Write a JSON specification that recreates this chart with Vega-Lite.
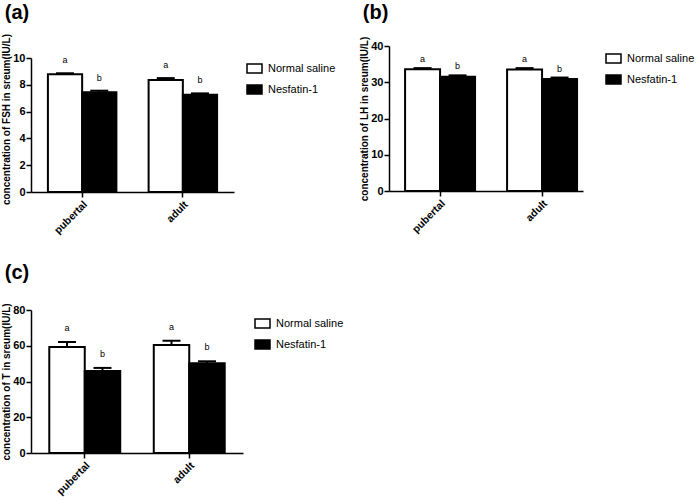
{
  "$schema": "https://vega.github.io/schema/vega-lite/v6.json",
  "background": "white",
  "padding": {"left": 1, "top": 3, "right": 0, "bottom": 0},
  "datasets": {
    "d": [
      {"hormone": "FSH", "stage": "pubertal", "group": "Normal saline", "mean": 8.78, "upper": 8.86, "sig": "a"},
      {"hormone": "FSH", "stage": "pubertal", "group": "Nesfatin-1", "mean": 7.44, "upper": 7.56, "sig": "b"},
      {"hormone": "FSH", "stage": "adult", "group": "Normal saline", "mean": 8.36, "upper": 8.5, "sig": "a"},
      {"hormone": "FSH", "stage": "adult", "group": "Nesfatin-1", "mean": 7.26, "upper": 7.36, "sig": "b"},
      {"hormone": "LH", "stage": "pubertal", "group": "Normal saline", "mean": 33.6, "upper": 33.9, "sig": "a"},
      {"hormone": "LH", "stage": "pubertal", "group": "Nesfatin-1", "mean": 31.5, "upper": 31.9, "sig": "b"},
      {"hormone": "LH", "stage": "adult", "group": "Normal saline", "mean": 33.5, "upper": 33.9, "sig": "a"},
      {"hormone": "LH", "stage": "adult", "group": "Nesfatin-1", "mean": 30.9, "upper": 31.3, "sig": "b"},
      {"hormone": "T", "stage": "pubertal", "group": "Normal saline", "mean": 59.3, "upper": 62.1, "sig": "a"},
      {"hormone": "T", "stage": "pubertal", "group": "Nesfatin-1", "mean": 45.9, "upper": 47.6, "sig": "b"},
      {"hormone": "T", "stage": "adult", "group": "Normal saline", "mean": 60.4, "upper": 62.8, "sig": "a"},
      {"hormone": "T", "stage": "adult", "group": "Nesfatin-1", "mean": 50.2, "upper": 51.3, "sig": "b"}
    ]
  },
  "config": {
    "font": "Liberation Sans",
    "view": {"stroke": null},
    "axis": {
      "domainColor": "black", "domainWidth": 1.5,
      "tickColor": "black", "tickWidth": 1.5, "tickSize": 5,
      "labelColor": "black", "labelFont": "Liberation Sans", "labelFontWeight": "bold", "labelFontSize": 11,
      "titleColor": "black", "titleFont": "Liberation Sans", "titleFontWeight": "bold", "titleFontSize": 10,
      "grid": false
    },
    "axisX": {"labelAngle": -45, "labelFontSize": 10.5, "labelPadding": 2, "title": null},
    "axisY": {"labelPadding": 1, "titlePadding": 1, "labelOverlap": false},
    "legend": {
      "orient": "none", "title": null, "padding": 0,
      "symbolType": "M-1,-0.6H1V0.6H-1Z", "symbolSize": 225,
      "symbolStrokeColor": "black", "symbolStrokeWidth": 1.5,
      "labelFont": "Liberation Sans", "labelFontSize": 11, "labelColor": "black",
      "labelOffset": 5, "rowPadding": 5
    },
    "title": {"font": "Liberation Sans", "fontSize": 20, "fontWeight": "bold", "color": "black", "anchor": "start", "frame": "bounds", "dx": 3}
  },
  "columns": 2,
  "spacing": {"row": 118, "column": 146},
  "bounds": "flush",
  "resolve": {"scale": {"x": "independent", "y": "independent", "fill": "independent", "xOffset": "independent"}, "legend": {"fill": "independent"}},
  "concat": [
    {
      "title": {"text": "(a)", "offset": 10},
      "width": 203, "height": 146,
      "data": {"name": "d"},
      "transform": [{"filter": "datum.hormone === 'FSH'"}],
      "encoding": {
        "x": {"field": "stage", "type": "nominal", "sort": ["pubertal", "adult"], "scale": {"paddingInner": 0.32, "paddingOuter": 0.168}},
        "xOffset": {"field": "group", "type": "nominal", "sort": ["Normal saline", "Nesfatin-1"], "scale": {"paddingInner": 0, "paddingOuter": 0}}
      },
      "layer": [
        {
          "mark": {"type": "bar", "stroke": "black", "strokeWidth": 2},
          "encoding": {
            "y": {"field": "mean", "type": "quantitative", "scale": {"domain": [0, 10.896], "nice": false},
                  "axis": {"values": [0, 2, 4, 6, 8, 10], "labelOverlap": false, "title": "concentration of FSH in sreum(IU/L)", "domainDash": [134, 300]}},
            "fill": {"field": "group", "type": "nominal", "sort": ["Normal saline", "Nesfatin-1"],
                     "scale": {"domain": ["Normal saline", "Nesfatin-1"], "range": ["white", "black"]},
                     "legend": {"legendX": 215, "legendY": 14}}
          }
        },
        {"mark": {"type": "rule", "color": "black", "strokeWidth": 2},
         "encoding": {"y": {"field": "mean", "type": "quantitative", "axis": {"values": [0, 2, 4, 6, 8, 10], "labelOverlap": false, "title": "concentration of FSH in sreum(IU/L)", "domainDash": [134, 300]}}, "y2": {"field": "upper"}}},
        {"mark": {"type": "tick", "color": "black", "size": 18, "thickness": 2, "orient": "horizontal", "opacity": 1},
         "encoding": {"y": {"field": "upper", "type": "quantitative", "axis": {"values": [0, 2, 4, 6, 8, 10], "labelOverlap": false, "title": "concentration of FSH in sreum(IU/L)", "domainDash": [134, 300]}}}},
        {"mark": {"type": "text", "dy": -13, "fontSize": 9, "color": "black", "baseline": "middle"},
         "encoding": {"y": {"field": "upper", "type": "quantitative", "axis": {"values": [0, 2, 4, 6, 8, 10], "labelOverlap": false, "title": "concentration of FSH in sreum(IU/L)", "domainDash": [134, 300]}}, "text": {"field": "sig"}}}
      ]
    },
    {
      "title": {"text": "(b)", "offset": 13},
      "width": 194, "height": 145,
      "data": {"name": "d"},
      "transform": [{"filter": "datum.hormone === 'LH'"}],
      "encoding": {
        "x": {"field": "stage", "type": "nominal", "sort": ["pubertal", "adult"], "scale": {"paddingInner": 0.314, "paddingOuter": 0.108, "align": 0.73}},
        "xOffset": {"field": "group", "type": "nominal", "sort": ["Normal saline", "Nesfatin-1"], "scale": {"paddingInner": 0, "paddingOuter": 0}}
      },
      "layer": [
        {
          "mark": {"type": "bar", "stroke": "black", "strokeWidth": 2},
          "encoding": {
            "y": {"field": "mean", "type": "quantitative", "scale": {"domain": [0, 40], "nice": false},
                  "axis": {"values": [0, 10, 20, 30, 40], "labelOverlap": false, "title": "concentration of LH in sreum(IU/L)"}},
            "fill": {"field": "group", "type": "nominal", "sort": ["Normal saline", "Nesfatin-1"],
                     "scale": {"domain": ["Normal saline", "Nesfatin-1"], "range": ["white", "black"]},
                     "legend": {"legendX": 216, "legendY": 4}}
          }
        },
        {"mark": {"type": "rule", "color": "black", "strokeWidth": 2},
         "encoding": {"y": {"field": "mean", "type": "quantitative", "axis": {"values": [0, 10, 20, 30, 40], "labelOverlap": false, "title": "concentration of LH in sreum(IU/L)"}}, "y2": {"field": "upper"}}},
        {"mark": {"type": "tick", "color": "black", "size": 18, "thickness": 2, "orient": "horizontal", "opacity": 1},
         "encoding": {"y": {"field": "upper", "type": "quantitative", "axis": {"values": [0, 10, 20, 30, 40], "labelOverlap": false, "title": "concentration of LH in sreum(IU/L)"}}}},
        {"mark": {"type": "text", "dy": -9, "fontSize": 9, "color": "black", "baseline": "middle"},
         "encoding": {"y": {"field": "upper", "type": "quantitative", "axis": {"values": [0, 10, 20, 30, 40], "labelOverlap": false, "title": "concentration of LH in sreum(IU/L)"}}, "text": {"field": "sig"}}}
      ]
    },
    {
      "title": {"text": "(c)", "offset": 20},
      "width": 212, "height": 143,
      "data": {"name": "d"},
      "transform": [{"filter": "datum.hormone === 'T'"}],
      "encoding": {
        "x": {"field": "stage", "type": "nominal", "sort": ["pubertal", "adult"], "scale": {"paddingInner": 0.321, "paddingOuter": 0.175}},
        "xOffset": {"field": "group", "type": "nominal", "sort": ["Normal saline", "Nesfatin-1"], "scale": {"paddingInner": 0, "paddingOuter": 0}}
      },
      "layer": [
        {
          "mark": {"type": "bar", "stroke": "black", "strokeWidth": 2},
          "encoding": {
            "y": {"field": "mean", "type": "quantitative", "scale": {"domain": [0, 80], "nice": false},
                  "axis": {"values": [0, 20, 40, 60, 80], "labelOverlap": false, "title": "concentration of T in sreum(IU/L)"}},
            "fill": {"field": "group", "type": "nominal", "sort": ["Normal saline", "Nesfatin-1"],
                     "scale": {"domain": ["Normal saline", "Nesfatin-1"], "range": ["white", "black"]},
                     "legend": {"legendX": 223, "legendY": 5}}
          }
        },
        {"mark": {"type": "rule", "color": "black", "strokeWidth": 2},
         "encoding": {"y": {"field": "mean", "type": "quantitative", "axis": {"values": [0, 20, 40, 60, 80], "labelOverlap": false, "title": "concentration of T in sreum(IU/L)"}}, "y2": {"field": "upper"}}},
        {"mark": {"type": "tick", "color": "black", "size": 18, "thickness": 2, "orient": "horizontal", "opacity": 1},
         "encoding": {"y": {"field": "upper", "type": "quantitative", "axis": {"values": [0, 20, 40, 60, 80], "labelOverlap": false, "title": "concentration of T in sreum(IU/L)"}}}},
        {"mark": {"type": "text", "dy": -14, "fontSize": 9, "color": "black", "baseline": "middle"},
         "encoding": {"y": {"field": "upper", "type": "quantitative", "axis": {"values": [0, 20, 40, 60, 80], "labelOverlap": false, "title": "concentration of T in sreum(IU/L)"}}, "text": {"field": "sig"}}}
      ]
    }
  ]
}
